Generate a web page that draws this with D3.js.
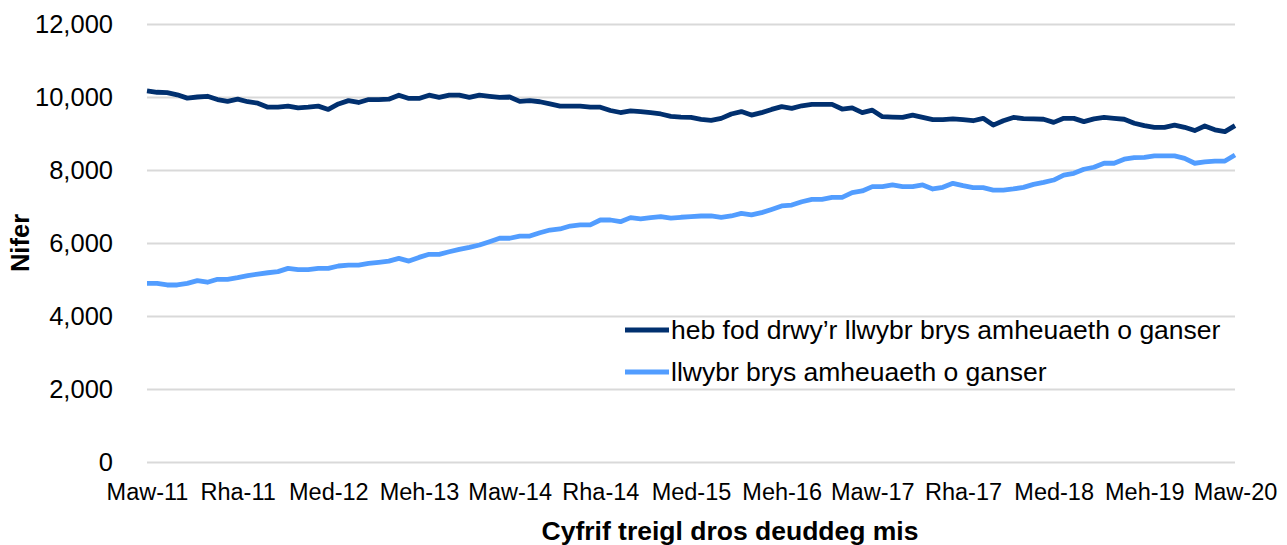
<!DOCTYPE html>
<html>
<head>
<meta charset="utf-8">
<script src="https://cdn.jsdelivr.net/npm/d3@7"></script>
<style>
body { margin: 0; background: #fff; }
text { font-family: "Liberation Sans", Arial, sans-serif; fill: #000; }
</style>
</head>
<body>
<div id="chart"></div>
<script>
var svgWidth = 1287;
var svgHeight = 545;

var margin = { top: 24, bottom: 83, left: 147, right: 52 };
var chartWidth = svgWidth - margin.left - margin.right;
var chartHeight = svgHeight - margin.top - margin.bottom;

// monthly rolling 12-month counts, Maw-11 .. Maw-20
var tickLabels = ["Maw-11", "Rha-11", "Med-12", "Meh-13", "Maw-14", "Rha-14", "Med-15",
    "Meh-16", "Maw-17", "Rha-17", "Med-18", "Meh-19", "Maw-20"];

var seriesNames = ["heb fod drwy\u2019r llwybr brys amheuaeth o ganser", "llwybr brys amheuaeth o ganser"];

var nonUrgent = [
    10170, 10130, 10120, 10060, 9970, 10000, 10020, 9930, 9880, 9940,
    9870, 9830, 9720, 9720, 9750, 9700, 9720, 9750, 9660, 9810,
    9900, 9850, 9930, 9930, 9940, 10050, 9960, 9960, 10050, 9990,
    10050, 10050, 9990, 10050, 10020, 9990, 10000, 9880, 9900, 9870,
    9810, 9750, 9750, 9750, 9720, 9720, 9630, 9575, 9620, 9600,
    9570, 9535, 9470, 9450, 9440, 9390, 9360, 9415, 9535, 9600,
    9505, 9570, 9660, 9735, 9690, 9760, 9800, 9800, 9800, 9670,
    9700, 9570, 9640, 9460, 9450, 9440, 9505, 9440, 9380, 9380,
    9400, 9380, 9350, 9415, 9230, 9350, 9440, 9410, 9400, 9390,
    9305, 9415, 9415, 9325, 9400, 9440, 9415, 9390, 9280, 9215,
    9170, 9170, 9230, 9170, 9080, 9205, 9100, 9050, 9215
];

var urgent = [
    4895, 4895, 4850, 4850, 4895, 4970, 4925, 5005, 5005, 5050,
    5105, 5150, 5185, 5215, 5305, 5270, 5270, 5305, 5305, 5370,
    5395, 5395, 5440, 5470, 5505, 5580, 5505, 5605, 5690, 5690,
    5760, 5825, 5880, 5945, 6035, 6130, 6130, 6190, 6190, 6280,
    6355, 6385, 6465, 6495, 6495, 6630, 6630, 6585, 6695, 6660,
    6695, 6720, 6680, 6705, 6720, 6740, 6740, 6705, 6740, 6810,
    6770, 6830, 6920, 7015, 7040, 7130, 7195, 7195, 7250, 7250,
    7380, 7425, 7545, 7545, 7590, 7545, 7545, 7590, 7480, 7525,
    7635, 7570, 7515, 7515, 7450, 7450, 7480, 7525, 7605, 7660,
    7725, 7860, 7910, 8020, 8075, 8185, 8185, 8295, 8340, 8345,
    8385, 8385, 8385, 8320, 8185, 8220, 8245, 8245, 8410
];

var colors = ["#01306f", "#529dff"];

var svg = d3.select("#chart")
    .append("svg")
    .attr("width", svgWidth)
    .attr("height", svgHeight);

var chartGroup = svg.append("g")
    .attr("transform", `translate(${margin.left}, ${margin.top})`);

var xLinearScale = d3.scaleLinear()
    .domain([0, nonUrgent.length - 1])
    .range([0, chartWidth]);

var yLinearScale = d3.scaleLinear()
    .domain([0, 12000])
    .range([chartHeight, 0]);

// gridlines + y labels
var leftAxis = d3.axisLeft(yLinearScale)
    .tickValues(d3.range(0, 12001, 2000))
    .tickSize(-chartWidth)
    .tickPadding(34)
    .tickFormat(d3.format(","));

var yAxis = chartGroup.append("g").call(leftAxis);
yAxis.select(".domain").remove();
yAxis.selectAll("line")
    .attr("stroke", "#d9d9d9")
    .attr("stroke-width", 2);
yAxis.selectAll("text")
    .attr("font-size", "25.5px")
    .attr("font-family", "Liberation Sans, Arial, sans-serif")
    .attr("fill", "#000");

var bottomAxis = d3.axisBottom(xLinearScale)
    .tickValues(d3.range(0, nonUrgent.length, 9))
    .tickSize(0)
    .tickPadding(21)
    .tickFormat((d, i) => tickLabels[i]);

var xAxis = chartGroup.append("g")
    .attr("transform", `translate(0, ${chartHeight})`)
    .call(bottomAxis);
xAxis.select(".domain").remove();
xAxis.selectAll("text")
    .attr("font-size", "23.5px")
    .attr("font-family", "Liberation Sans, Arial, sans-serif")
    .attr("fill", "#000");

// lines
var line = d3.line()
    .x((d, i) => xLinearScale(i))
    .y(d => yLinearScale(d));

[nonUrgent, urgent].forEach((series, k) => {
    chartGroup.append("path")
        .datum(series)
        .attr("fill", "none")
        .attr("stroke", colors[k])
        .attr("stroke-width", 4.8)
        .attr("stroke-linejoin", "round")
        .attr("d", line);
});

// legend
var legend = svg.append("g")
    .attr("transform", "translate(625, 330)");
seriesNames.forEach((name, k) => {
    var row = legend.append("g").attr("transform", `translate(0, ${k * 42})`);
    row.append("line")
        .attr("x1", 0).attr("x2", 44)
        .attr("stroke", colors[k])
        .attr("stroke-width", 4.8);
    row.append("text")
        .attr("x", 46)
        .attr("dy", "0.35em")
        .attr("font-size", "26.5px")
        .text(name);
});

// axis titles
svg.append("text")
    .attr("x", 730)
    .attr("y", 540)
    .attr("text-anchor", "middle")
    .attr("font-size", "26.5px")
    .attr("font-weight", "bold")
    .text("Cyfrif treigl dros deuddeg mis");

svg.append("text")
    .attr("transform", "translate(29, 243) rotate(-90)")
    .attr("text-anchor", "middle")
    .attr("font-size", "25.5px")
    .attr("font-weight", "bold")
    .text("Nifer");
</script>
</body>
</html>
